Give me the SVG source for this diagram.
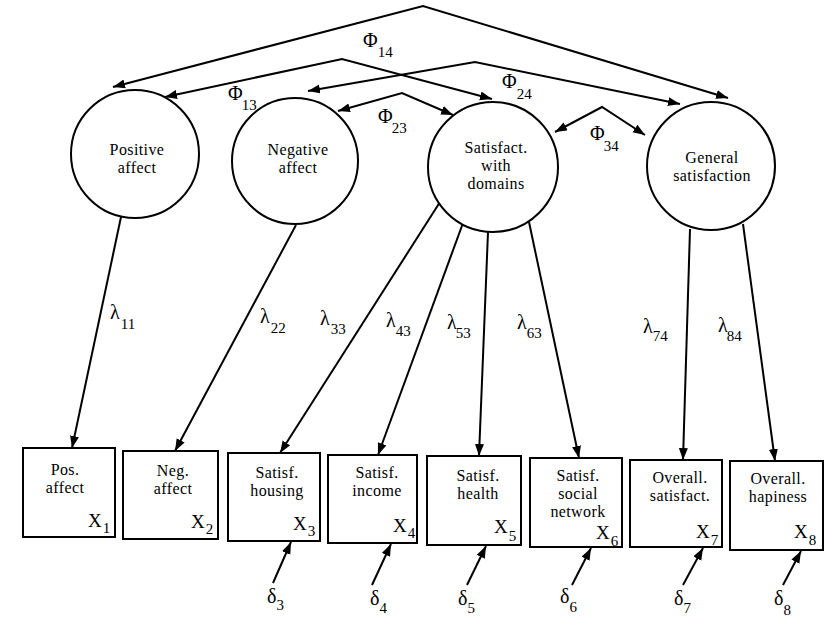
<svg xmlns="http://www.w3.org/2000/svg" width="827" height="619" viewBox="0 0 827 619">
<style>
.n{fill:#fff;stroke:#000;stroke-width:2}
.t{font-family:"Liberation Serif",serif;font-size:16px;letter-spacing:0.4px;fill:#000;text-anchor:middle}
.x{font-family:"Liberation Serif",serif;font-size:19px;fill:#000}
.s{font-family:"Liberation Serif",serif;font-size:15px}
.g{font-family:"Liberation Serif",serif;font-size:20px;fill:#000}
.c{fill:none;stroke:#000;stroke-width:2}
</style>
<defs>
<marker id="ah" markerUnits="userSpaceOnUse" markerWidth="13" markerHeight="10" refX="12" refY="4.5" orient="auto-start-reverse">
<path d="M0,0 L12,4.5 L0,9 z" fill="#000"/>
</marker>
</defs>
<rect width="827" height="619" fill="#fff"/>

<g id="connectors">
<polyline class="c" points="113,87 423,6 728,98" marker-start="url(#ah)" marker-end="url(#ah)"/>
<polyline class="c" points="165,97 342,59 492,99" marker-start="url(#ah)" marker-end="url(#ah)"/>
<polyline class="c" points="338,111 402,93 453,115" marker-start="url(#ah)" marker-end="url(#ah)"/>
<polyline class="c" points="308,91 475,62 680,104" marker-start="url(#ah)" marker-end="url(#ah)"/>
<polyline class="c" points="555,132 602,107 645,135" marker-start="url(#ah)" marker-end="url(#ah)"/>
<line class="c" x1="121" y1="217" x2="72" y2="448" marker-end="url(#ah)"/>
<line class="c" x1="296" y1="225" x2="175" y2="451" marker-end="url(#ah)"/>
<line class="c" x1="440" y1="202" x2="280" y2="453" marker-end="url(#ah)"/>
<line class="c" x1="463" y1="223" x2="378" y2="455" marker-end="url(#ah)"/>
<line class="c" x1="488" y1="232" x2="479" y2="456" marker-end="url(#ah)"/>
<line class="c" x1="529" y1="222" x2="579" y2="458" marker-end="url(#ah)"/>
<line class="c" x1="690" y1="229" x2="683" y2="460" marker-end="url(#ah)"/>
<line class="c" x1="743" y1="224" x2="775" y2="461" marker-end="url(#ah)"/>
<line class="c" x1="273" y1="583" x2="291" y2="542" marker-end="url(#ah)"/>
<line class="c" x1="372" y1="585" x2="391" y2="544" marker-end="url(#ah)"/>
<line class="c" x1="467" y1="585" x2="486" y2="546" marker-end="url(#ah)"/>
<line class="c" x1="572" y1="585" x2="591" y2="548" marker-end="url(#ah)"/>
<line class="c" x1="683" y1="585" x2="703" y2="548" marker-end="url(#ah)"/>
<line class="c" x1="783" y1="585" x2="801" y2="551" marker-end="url(#ah)"/>
</g>

<g id="labels">
<text class="g" x="363" y="47">Φ<tspan class="s" dx="0" dy="10">14</tspan></text>
<text class="g" x="228" y="100">Φ<tspan class="s" dx="-1" dy="10">13</tspan></text>
<text class="g" x="378" y="123">Φ<tspan class="s" dx="-1" dy="10">23</tspan></text>
<text class="g" x="502" y="88">Φ<tspan class="s" dx="0" dy="11">24</tspan></text>
<text class="g" x="590" y="140">Φ<tspan class="s" dx="-1" dy="11">34</tspan></text>
<text class="g" x="110" y="319">λ<tspan class="s" dx="1" dy="10">11</tspan></text>
<text class="g" x="260" y="323">λ<tspan class="s" dx="1" dy="10">22</tspan></text>
<text class="g" x="320" y="325">λ<tspan class="s" dx="1" dy="9">33</tspan></text>
<text class="g" x="386" y="327">λ<tspan class="s" dx="0" dy="9">43</tspan></text>
<text class="g" x="447" y="329">λ<tspan class="s" dx="-1" dy="9">53</tspan></text>
<text class="g" x="517" y="329">λ<tspan class="s" dx="0" dy="9">63</tspan></text>
<text class="g" x="643" y="333">λ<tspan class="s" dx="0" dy="8">74</tspan></text>
<text class="g" x="718" y="332">λ<tspan class="s" dx="-1" dy="9">84</tspan></text>
<text class="g" x="267" y="603">δ<tspan class="s" dx="0" dy="7">3</tspan></text>
<text class="g" x="370" y="605">δ<tspan class="s" dx="0" dy="8">4</tspan></text>
<text class="g" x="458" y="605">δ<tspan class="s" dx="0" dy="8">5</tspan></text>
<text class="g" x="560" y="603">δ<tspan class="s" dx="0" dy="9">6</tspan></text>
<text class="g" x="674" y="605">δ<tspan class="s" dx="0" dy="8">7</tspan></text>
<text class="g" x="774" y="605">δ<tspan class="s" dx="0" dy="10">8</tspan></text>
</g>

<g id="positive-affect">
<circle class="n" cx="135" cy="154" r="64"/>
<text class="t" x="137" y="155">Positive</text>
<text class="t" x="137" y="173">affect</text>
</g>
<g id="negative-affect">
<circle class="n" cx="295" cy="161" r="63"/>
<text class="t" x="298" y="155">Negative</text>
<text class="t" x="298" y="173">affect</text>
</g>
<g id="satisfaction-domains">
<circle class="n" cx="493" cy="167" r="65"/>
<text class="t" x="496" y="153">Satisfact.</text>
<text class="t" x="496" y="171">with</text>
<text class="t" x="496" y="189">domains</text>
</g>
<g id="general-satisfaction">
<circle class="n" cx="711" cy="166" r="64"/>
<text class="t" x="712" y="163">General</text>
<text class="t" x="712" y="181">satisfaction</text>
</g>

<g id="x1">
<rect class="n" x="23" y="448" width="92" height="89"/>
<text class="t" x="65" y="475">Pos.</text>
<text class="t" x="65" y="493">affect</text>
<text class="x" x="88" y="527">X<tspan class="s" dx="1" dy="6">1</tspan></text>
</g>
<g id="x2">
<rect class="n" x="123" y="451" width="95" height="88"/>
<text class="t" x="173" y="476">Neg.</text>
<text class="t" x="173" y="494">affect</text>
<text class="x" x="191" y="528">X<tspan class="s" dx="1" dy="6">2</tspan></text>
</g>
<g id="x3">
<rect class="n" x="228" y="453" width="92" height="88"/>
<text class="t" x="277" y="478">Satisf.</text>
<text class="t" x="277" y="496">housing</text>
<text class="x" x="293" y="530">X<tspan class="s" dx="1" dy="6">3</tspan></text>
</g>
<g id="x4">
<rect class="n" x="328" y="455" width="89" height="88"/>
<text class="t" x="377" y="478">Satisf.</text>
<text class="t" x="377" y="496">income</text>
<text class="x" x="393" y="532">X<tspan class="s" dx="1" dy="6">4</tspan></text>
</g>
<g id="x5">
<rect class="n" x="427" y="456" width="94" height="89"/>
<text class="t" x="478" y="481">Satisf.</text>
<text class="t" x="478" y="499">health</text>
<text class="x" x="494" y="533">X<tspan class="s" dx="1" dy="8">5</tspan></text>
</g>
<g id="x6">
<rect class="n" x="530" y="458" width="92" height="89"/>
<text class="t" x="578" y="481">Satisf.</text>
<text class="t" x="578" y="499">social</text>
<text class="t" x="578" y="517">network</text>
<text class="x" x="596" y="539">X<tspan class="s" dx="1" dy="7">6</tspan></text>
</g>
<g id="x7">
<rect class="n" x="630" y="460" width="92" height="87"/>
<text class="t" x="680" y="483">Overall.</text>
<text class="t" x="680" y="501">satisfact.</text>
<text class="x" x="696" y="538">X<tspan class="s" dx="1" dy="7">7</tspan></text>
</g>
<g id="x8">
<rect class="n" x="730" y="461" width="93" height="89"/>
<text class="t" x="778" y="484">Overall.</text>
<text class="t" x="778" y="502">hapiness</text>
<text class="x" x="794" y="538">X<tspan class="s" dx="1" dy="7">8</tspan></text>
</g>
</svg>
